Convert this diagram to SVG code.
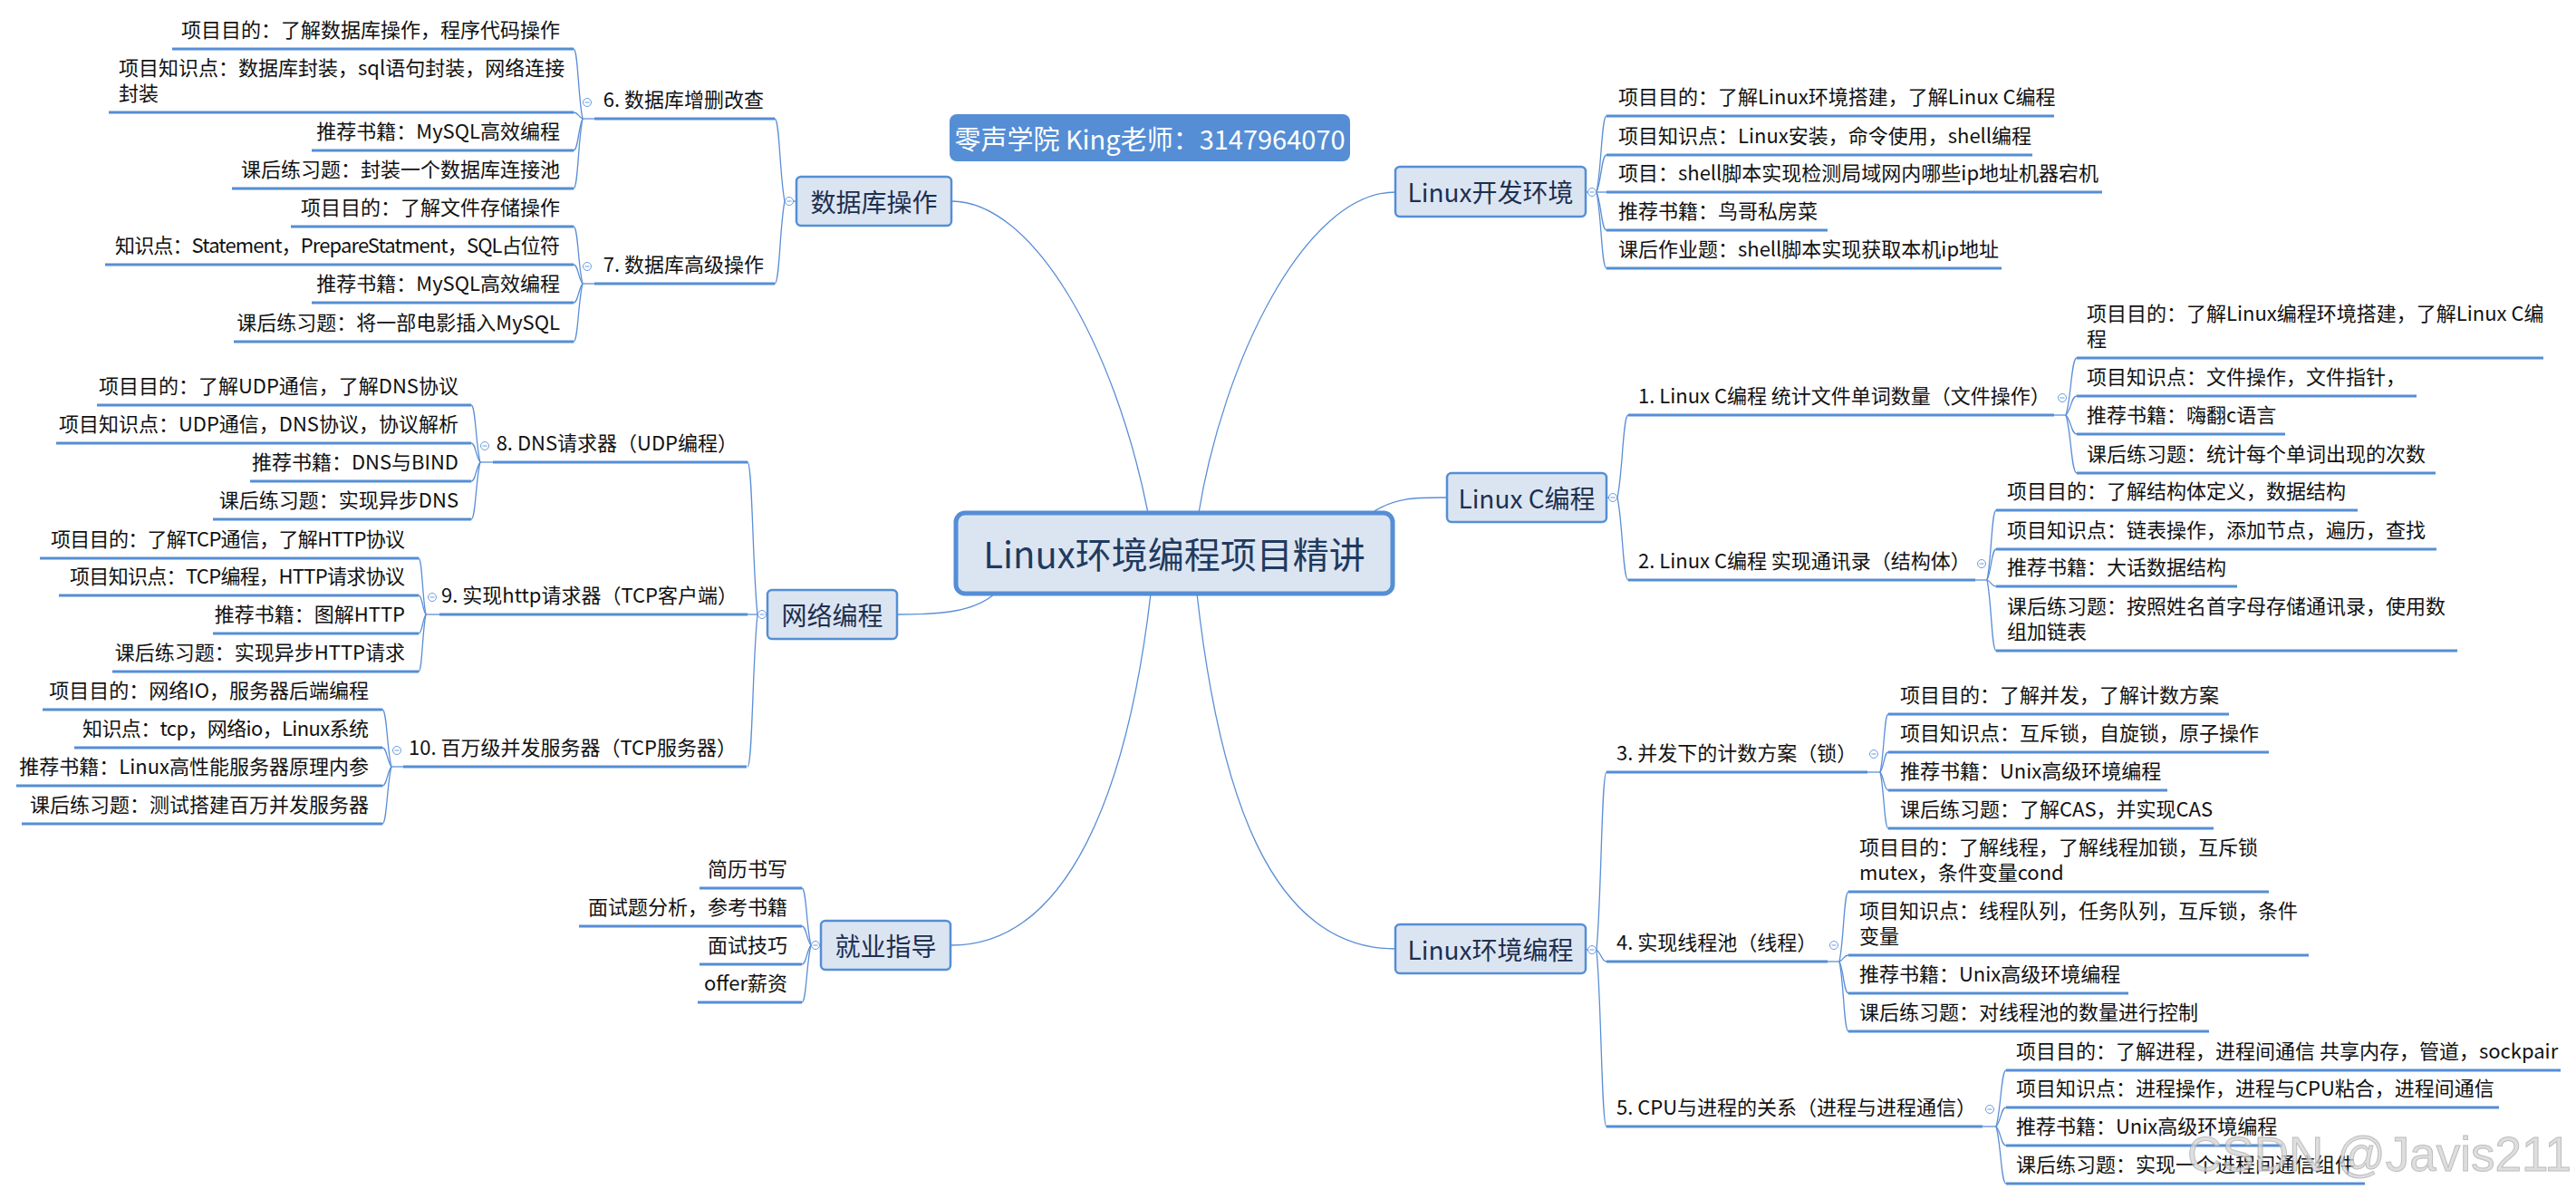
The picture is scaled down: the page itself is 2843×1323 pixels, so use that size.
<svg xmlns="http://www.w3.org/2000/svg" width="2843" height="1323" viewBox="0 0 2843 1323">
<style>
text{font-family:'Noto Sans CJK SC','Microsoft YaHei',sans-serif;}
.tx{font-size:22px;fill:#111;}
.e{text-anchor:end;}
.box{fill:#dbe5f1;stroke:#558ed5;stroke-width:2.5;}
.root{fill:#dbe5f1;stroke:#558ed5;stroke-width:5;}
.t1{font-size:28px;fill:#1d2f50;text-anchor:middle;dominant-baseline:central;}
.t0{font-size:40px;fill:#1f3a60;text-anchor:middle;dominant-baseline:central;}
.ul{stroke:#558ed5;stroke-width:3;fill:none;}
.ln{stroke:#5b8fd6;stroke-width:1.3;fill:none;}
.btn{fill:#fff;stroke:#6b9be0;stroke-width:1;}
</style>
<defs>
<g id="b"><circle class="btn" r="4.5"/><line x1="-2.5" y1="0" x2="2.5" y2="0" stroke="#6b9be0" stroke-width="1"/></g>
</defs>
<rect width="2843" height="1323" fill="#fff"/>

<g id="connectors">
<!-- center to level-1 -->
<path class="ln" d="M1050,222 C1140,222 1230,380 1267,566"/>
<path class="ln" d="M1540,212 C1440,212 1350,400 1323,566"/>
<path class="ln" d="M1514,566 C1540,548 1565,549 1597,549"/>
<path class="ln" d="M1098,655 C1075,675 1040,678 990,678"/>
<path class="ln" d="M1270,655 C1245,870 1180,1043 1050,1043"/>
<path class="ln" d="M1321,655 C1345,870 1400,1047 1540,1047"/>
<!-- Linux开发环境 -->
<path class="ln" d="M1750,212 L1762,212"/>
<path class="ln" d="M1762,212 C1767.5,186.8 1767.5,128 1773,128"/>
<path class="ln" d="M1762,212 C1767.5,199.7 1767.5,171 1773,171"/>
<path class="ln" d="M1762,212 L1773,212"/>
<path class="ln" d="M1762,212 C1767.5,224.6 1767.5,254 1773,254"/>
<path class="ln" d="M1762,212 C1767.5,237.2 1767.5,296 1773,296"/>
<!-- Linux C编程 -->
<path class="ln" d="M1773,549 L1785,549"/>
<path class="ln" d="M1785,549 C1791,521.7 1791,458 1797,458"/>
<path class="ln" d="M1785,549 C1791,576.3 1791,640 1797,640"/>
<path class="ln" d="M2267,458 L2280,458"/>
<path class="ln" d="M2280,458 C2286,439.1 2286,395 2292,395"/>
<path class="ln" d="M2280,458 C2286,451.7 2286,437 2292,437"/>
<path class="ln" d="M2280,458 C2286,464.3 2286,479 2292,479"/>
<path class="ln" d="M2280,458 C2286,477.2 2286,522 2292,522"/>
<path class="ln" d="M2180,640 L2193,640"/>
<path class="ln" d="M2193,640 C2198,616.9 2198,563 2203,563"/>
<path class="ln" d="M2193,640 C2198,629.8 2198,606 2203,606"/>
<path class="ln" d="M2193,640 C2198,642.1 2198,647 2203,647"/>
<path class="ln" d="M2193,640 C2198,663.4 2198,718 2203,718"/>
<!-- Linux环境编程 -->
<path class="ln" d="M1750,1048 L1762,1048"/>
<path class="ln" d="M1762,1048 C1767.5,989.2 1767.5,852 1773,852"/>
<path class="ln" d="M1762,1048 C1767.5,1051.9 1767.5,1061 1773,1061"/>
<path class="ln" d="M1762,1048 C1767.5,1106.5 1767.5,1243 1773,1243"/>
<path class="ln" d="M2061,852 L2075,852"/>
<path class="ln" d="M2075,852 C2079.5,832.8 2079.5,788 2084,788"/>
<path class="ln" d="M2075,852 C2079.5,845.4 2079.5,830 2084,830"/>
<path class="ln" d="M2075,852 C2079.5,858 2079.5,872 2084,872"/>
<path class="ln" d="M2075,852 C2079.5,870.6 2079.5,914 2084,914"/>
<path class="ln" d="M2017,1061 L2030,1061"/>
<path class="ln" d="M2030,1061 C2035,1037.9 2035,984 2040,984"/>
<path class="ln" d="M2030,1061 C2035,1058.9 2035,1054 2040,1054"/>
<path class="ln" d="M2030,1061 C2035,1071.5 2035,1096 2040,1096"/>
<path class="ln" d="M2030,1061 C2035,1084.1 2035,1138 2040,1138"/>
<path class="ln" d="M2188,1243 L2203,1243"/>
<path class="ln" d="M2203,1243 C2208.5,1224.4 2208.5,1181 2214,1181"/>
<path class="ln" d="M2203,1243 C2208.5,1236.7 2208.5,1222 2214,1222"/>
<path class="ln" d="M2203,1243 C2208.5,1249.3 2208.5,1264 2214,1264"/>
<path class="ln" d="M2203,1243 C2208.5,1261.9 2208.5,1306 2214,1306"/>
<!-- 数据库操作 -->
<path class="ln" d="M879,222 L866,222"/>
<path class="ln" d="M866,222 C860.5,194.7 860.5,131 855,131"/>
<path class="ln" d="M866,222 C860.5,249.3 860.5,313 855,313"/>
<path class="ln" d="M656,131 L643,131"/>
<path class="ln" d="M643,131 C638,107.9 638,54 633,54"/>
<path class="ln" d="M643,131 C638,128.9 638,124 633,124"/>
<path class="ln" d="M643,131 C638,141.5 638,166 633,166"/>
<path class="ln" d="M643,131 C638,154.1 638,208 633,208"/>
<path class="ln" d="M656,313 L643,313"/>
<path class="ln" d="M643,313 C638,294.1 638,250 633,250"/>
<path class="ln" d="M643,313 C638,306.7 638,292 633,292"/>
<path class="ln" d="M643,313 C638,319.3 638,334 633,334"/>
<path class="ln" d="M643,313 C638,332.2 638,377 633,377"/>
<!-- 网络编程 -->
<path class="ln" d="M847,678 L836,678"/>
<path class="ln" d="M836,678 C830.5,627.6 830.5,510 825,510"/>
<path class="ln" d="M836,678 L825,678"/>
<path class="ln" d="M836,678 C830.5,728.4 830.5,846 825,846"/>
<path class="ln" d="M544,510 L530,510"/>
<path class="ln" d="M530,510 C525,491.1 525,447 520,447"/>
<path class="ln" d="M530,510 C525,503.7 525,489 520,489"/>
<path class="ln" d="M530,510 C525,516.3 525,531 520,531"/>
<path class="ln" d="M530,510 C525,528.9 525,573 520,573"/>
<path class="ln" d="M485,678 L470,678"/>
<path class="ln" d="M470,678 C466,659.4 466,616 462,616"/>
<path class="ln" d="M470,678 C466,671.7 466,657 462,657"/>
<path class="ln" d="M470,678 C466,684.3 466,699 462,699"/>
<path class="ln" d="M470,678 C466,696.9 466,741 462,741"/>
<path class="ln" d="M445,846 L432,846"/>
<path class="ln" d="M432,846 C427,827.1 427,783 422,783"/>
<path class="ln" d="M432,846 C427,839.7 427,825 422,825"/>
<path class="ln" d="M432,846 C427,852.3 427,867 422,867"/>
<path class="ln" d="M432,846 C427,864.9 427,909 422,909"/>
<!-- 就业指导 -->
<path class="ln" d="M906,1043 L895,1043"/>
<path class="ln" d="M895,1043 C890,1024.1 890,980 885,980"/>
<path class="ln" d="M895,1043 C890,1036.7 890,1022 885,1022"/>
<path class="ln" d="M895,1043 C890,1049.3 890,1064 885,1064"/>
<path class="ln" d="M895,1043 C890,1061.9 890,1106 885,1106"/>
</g>

<g id="banner">
<rect x="1048" y="126" width="442" height="52" rx="8" fill="#558ed5"/>
<text x="1269" y="152" style="font-size:29px;fill:#fff;text-anchor:middle;dominant-baseline:central">零声学院 King老师：3147964070</text>
</g>

<g id="root">
<rect class="root" x="1055" y="566" width="482" height="89" rx="10"/>
<text class="t0" x="1296" y="610">Linux环境编程项目精讲</text>
</g>

<g id="n-db">
<rect class="box" x="879" y="195" width="171" height="54" rx="5"/>
<text class="t1" x="964.5" y="222">数据库操作</text>
<use href="#b" x="871" y="222"/>
</g>
<g id="n-dev">
<rect class="box" x="1540" y="184" width="210" height="55" rx="5"/>
<text class="t1" x="1645" y="211">Linux开发环境</text>
<use href="#b" x="1757" y="212"/>
</g>
<g id="n-c">
<rect class="box" x="1597" y="522" width="176" height="54" rx="5"/>
<text class="t1" x="1685" y="549">Linux C编程</text>
<use href="#b" x="1780" y="549"/>
</g>
<g id="n-net">
<rect class="box" x="847" y="651" width="143" height="54" rx="5"/>
<text class="t1" x="918.5" y="678">网络编程</text>
<use href="#b" x="841" y="678"/>
</g>
<g id="n-job">
<rect class="box" x="906" y="1016" width="143" height="54" rx="5"/>
<text class="t1" x="977.5" y="1043">就业指导</text>
<use href="#b" x="900" y="1043"/>
</g>
<g id="n-env">
<rect class="box" x="1540" y="1020" width="210" height="54" rx="5"/>
<text class="t1" x="1645" y="1047">Linux环境编程</text>
<use href="#b" x="1757" y="1048"/>
</g>

<!-- 数据库操作 branch -->
<g id="n6">
<line class="ul" x1="656" y1="131" x2="855" y2="131"/>
<text class="tx e" x="843" y="118">6. 数据库增删改查</text>
<use href="#b" x="648" y="113"/>
</g>
<g id="n6a"><line class="ul" x1="190" y1="54" x2="633" y2="54"/><text class="tx e" x="618" y="41">项目目的：了解数据库操作，程序代码操作</text></g>
<g id="n6b"><line class="ul" x1="120" y1="124" x2="633" y2="124"/><text class="tx" x="131" y="83">项目知识点：数据库封装，sql语句封装，网络连接</text><text class="tx" x="131" y="111">封装</text></g>
<g id="n6c"><line class="ul" x1="344" y1="166" x2="633" y2="166"/><text class="tx e" x="618" y="153">推荐书籍：MySQL高效编程</text></g>
<g id="n6d"><line class="ul" x1="256" y1="208" x2="633" y2="208"/><text class="tx e" x="618" y="195">课后练习题：封装一个数据库连接池</text></g>
<g id="n7">
<line class="ul" x1="656" y1="313" x2="855" y2="313"/>
<text class="tx e" x="843" y="300">7. 数据库高级操作</text>
<use href="#b" x="648" y="294"/>
</g>
<g id="n7a"><line class="ul" x1="321" y1="250" x2="633" y2="250"/><text class="tx e" x="618" y="237">项目目的：了解文件存储操作</text></g>
<g id="n7b"><line class="ul" x1="116" y1="292" x2="633" y2="292"/><text class="tx e" x="618" y="279" textLength="491" lengthAdjust="spacing">知识点：Statement，PrepareStatment，SQL占位符</text></g>
<g id="n7c"><line class="ul" x1="344" y1="334" x2="633" y2="334"/><text class="tx e" x="618" y="321">推荐书籍：MySQL高效编程</text></g>
<g id="n7d"><line class="ul" x1="258" y1="377" x2="633" y2="377"/><text class="tx e" x="618" y="364">课后练习题：将一部电影插入MySQL</text></g>

<!-- 网络编程 branch -->
<g id="n8">
<line class="ul" x1="544" y1="510" x2="825" y2="510"/>
<text class="tx e" x="814" y="497">8. DNS请求器（UDP编程）</text>
<use href="#b" x="535" y="492"/>
</g>
<g id="n8a"><line class="ul" x1="107" y1="447" x2="520" y2="447"/><text class="tx e" x="506" y="434">项目目的：了解UDP通信，了解DNS协议</text></g>
<g id="n8b"><line class="ul" x1="62" y1="489" x2="520" y2="489"/><text class="tx e" x="506" y="476">项目知识点：UDP通信，DNS协议，协议解析</text></g>
<g id="n8c"><line class="ul" x1="276" y1="531" x2="520" y2="531"/><text class="tx e" x="506" y="518">推荐书籍：DNS与BIND</text></g>
<g id="n8d"><line class="ul" x1="235" y1="573" x2="520" y2="573"/><text class="tx e" x="506" y="560">课后练习题：实现异步DNS</text></g>
<g id="n9">
<line class="ul" x1="485" y1="678" x2="825" y2="678"/>
<text class="tx e" x="814" y="665">9. 实现http请求器（TCP客户端）</text>
<use href="#b" x="477" y="659"/>
</g>
<g id="n9a"><line class="ul" x1="44" y1="616" x2="462" y2="616"/><text class="tx e" x="447" y="603" textLength="391" lengthAdjust="spacing">项目目的：了解TCP通信，了解HTTP协议</text></g>
<g id="n9b"><line class="ul" x1="65" y1="657" x2="462" y2="657"/><text class="tx e" x="447" y="644" textLength="370" lengthAdjust="spacing">项目知识点：TCP编程，HTTP请求协议</text></g>
<g id="n9c"><line class="ul" x1="235" y1="699" x2="462" y2="699"/><text class="tx e" x="447" y="686">推荐书籍：图解HTTP</text></g>
<g id="n9d"><line class="ul" x1="124" y1="741" x2="462" y2="741"/><text class="tx e" x="447" y="728">课后练习题：实现异步HTTP请求</text></g>
<g id="n10">
<line class="ul" x1="445" y1="846" x2="824" y2="846"/>
<text class="tx e" x="813" y="833">10. 百万级并发服务器（TCP服务器）</text>
<use href="#b" x="438" y="828"/>
</g>
<g id="n10a"><line class="ul" x1="47" y1="783" x2="422" y2="783"/><text class="tx e" x="407" y="770">项目目的：网络IO，服务器后端编程</text></g>
<g id="n10b"><line class="ul" x1="82" y1="825" x2="422" y2="825"/><text class="tx e" x="407" y="812" textLength="316" lengthAdjust="spacing">知识点：tcp，网络io，Linux系统</text></g>
<g id="n10c"><line class="ul" x1="18" y1="867" x2="422" y2="867"/><text class="tx e" x="407" y="854">推荐书籍：Linux高性能服务器原理内参</text></g>
<g id="n10d"><line class="ul" x1="24" y1="909" x2="422" y2="909"/><text class="tx e" x="407" y="896">课后练习题：测试搭建百万并发服务器</text></g>

<!-- 就业指导 branch -->
<g id="nj1"><line class="ul" x1="772" y1="980" x2="885" y2="980"/><text class="tx e" x="869" y="967">简历书写</text></g>
<g id="nj2"><line class="ul" x1="639" y1="1022" x2="885" y2="1022"/><text class="tx e" x="869" y="1009">面试题分析，参考书籍</text></g>
<g id="nj3"><line class="ul" x1="772" y1="1064" x2="885" y2="1064"/><text class="tx e" x="869" y="1051">面试技巧</text></g>
<g id="nj4"><line class="ul" x1="770" y1="1106" x2="885" y2="1106"/><text class="tx e" x="869" y="1093">offer薪资</text></g>

<!-- Linux开发环境 branch -->
<g id="nd1"><line class="ul" x1="1773" y1="128" x2="2267" y2="128"/><text class="tx" x="1786" y="115">项目目的：了解Linux环境搭建，了解Linux C编程</text></g>
<g id="nd2"><line class="ul" x1="1773" y1="171" x2="2243" y2="171"/><text class="tx" x="1786" y="158">项目知识点：Linux安装，命令使用，shell编程</text></g>
<g id="nd3"><line class="ul" x1="1773" y1="212" x2="2320" y2="212"/><text class="tx" x="1786" y="199">项目：shell脚本实现检测局域网内哪些ip地址机器宕机</text></g>
<g id="nd4"><line class="ul" x1="1773" y1="254" x2="2017" y2="254"/><text class="tx" x="1786" y="241">推荐书籍：鸟哥私房菜</text></g>
<g id="nd5"><line class="ul" x1="1773" y1="296" x2="2209" y2="296"/><text class="tx" x="1786" y="283">课后作业题：shell脚本实现获取本机ip地址</text></g>

<!-- Linux C编程 branch -->
<g id="n1">
<line class="ul" x1="1797" y1="458" x2="2267" y2="458"/>
<text class="tx" x="1808" y="445">1. Linux C编程 统计文件单词数量（文件操作）</text>
<use href="#b" x="2276" y="439"/>
</g>
<g id="n1a"><line class="ul" x1="2292" y1="395" x2="2807" y2="395"/><text class="tx" x="2303" y="354">项目目的：了解Linux编程环境搭建，了解Linux C编</text><text class="tx" x="2303" y="382">程</text></g>
<g id="n1b"><line class="ul" x1="2292" y1="437" x2="2667" y2="437"/><text class="tx" x="2303" y="424">项目知识点：文件操作，文件指针，</text></g>
<g id="n1c"><line class="ul" x1="2292" y1="479" x2="2522" y2="479"/><text class="tx" x="2303" y="466">推荐书籍：嗨翻c语言</text></g>
<g id="n1d"><line class="ul" x1="2292" y1="522" x2="2688" y2="522"/><text class="tx" x="2303" y="509">课后练习题：统计每个单词出现的次数</text></g>
<g id="n2">
<line class="ul" x1="1797" y1="640" x2="2180" y2="640"/>
<text class="tx" x="1808" y="627">2. Linux C编程 实现通讯录（结构体）</text>
<use href="#b" x="2187" y="622"/>
</g>
<g id="n2a"><line class="ul" x1="2203" y1="563" x2="2602" y2="563"/><text class="tx" x="2215" y="550">项目目的：了解结构体定义，数据结构</text></g>
<g id="n2b"><line class="ul" x1="2203" y1="606" x2="2689" y2="606"/><text class="tx" x="2215" y="593">项目知识点：链表操作，添加节点，遍历，查找</text></g>
<g id="n2c"><line class="ul" x1="2203" y1="647" x2="2469" y2="647"/><text class="tx" x="2215" y="634">推荐书籍：大话数据结构</text></g>
<g id="n2d"><line class="ul" x1="2203" y1="718" x2="2712" y2="718"/><text class="tx" x="2215" y="677">课后练习题：按照姓名首字母存储通讯录，使用数</text><text class="tx" x="2215" y="705">组加链表</text></g>

<!-- Linux环境编程 branch -->
<g id="n3">
<line class="ul" x1="1773" y1="852" x2="2061" y2="852"/>
<text class="tx" x="1784" y="839">3. 并发下的计数方案（锁）</text>
<use href="#b" x="2068" y="832"/>
</g>
<g id="n3a"><line class="ul" x1="2084" y1="788" x2="2460" y2="788"/><text class="tx" x="2097" y="775">项目目的：了解并发，了解计数方案</text></g>
<g id="n3b"><line class="ul" x1="2084" y1="830" x2="2504" y2="830"/><text class="tx" x="2097" y="817">项目知识点：互斥锁，自旋锁，原子操作</text></g>
<g id="n3c"><line class="ul" x1="2084" y1="872" x2="2392" y2="872"/><text class="tx" x="2097" y="859">推荐书籍：Unix高级环境编程</text></g>
<g id="n3d"><line class="ul" x1="2084" y1="914" x2="2443" y2="914"/><text class="tx" x="2097" y="901">课后练习题：了解CAS，并实现CAS</text></g>
<g id="n4">
<line class="ul" x1="1773" y1="1061" x2="2017" y2="1061"/>
<text class="tx" x="1784" y="1048">4. 实现线程池（线程）</text>
<use href="#b" x="2024" y="1043"/>
</g>
<g id="n4a"><line class="ul" x1="2040" y1="984" x2="2504" y2="984"/><text class="tx" x="2052" y="943">项目目的：了解线程，了解线程加锁，互斥锁</text><text class="tx" x="2052" y="971">mutex，条件变量cond</text></g>
<g id="n4b"><line class="ul" x1="2040" y1="1054" x2="2548" y2="1054"/><text class="tx" x="2052" y="1013">项目知识点：线程队列，任务队列，互斥锁，条件</text><text class="tx" x="2052" y="1041">变量</text></g>
<g id="n4c"><line class="ul" x1="2040" y1="1096" x2="2349" y2="1096"/><text class="tx" x="2052" y="1083">推荐书籍：Unix高级环境编程</text></g>
<g id="n4d"><line class="ul" x1="2040" y1="1138" x2="2438" y2="1138"/><text class="tx" x="2052" y="1125">课后练习题：对线程池的数量进行控制</text></g>
<g id="n5">
<line class="ul" x1="1773" y1="1243" x2="2188" y2="1243"/>
<text class="tx" x="1784" y="1230">5. CPU与进程的关系（进程与进程通信）</text>
<use href="#b" x="2196" y="1224"/>
</g>
<g id="n5a"><line class="ul" x1="2214" y1="1181" x2="2826" y2="1181"/><text class="tx" x="2225" y="1168">项目目的：了解进程，进程间通信 共享内存，管道，sockpair</text></g>
<g id="n5b"><line class="ul" x1="2214" y1="1222" x2="2758" y2="1222"/><text class="tx" x="2225" y="1209">项目知识点：进程操作，进程与CPU粘合，进程间通信</text></g>
<g id="n5c"><line class="ul" x1="2214" y1="1264" x2="2519" y2="1264"/><text class="tx" x="2225" y="1251">推荐书籍：Unix高级环境编程</text></g>
<g id="n5d"><line class="ul" x1="2214" y1="1306" x2="2610" y2="1306"/><text class="tx" x="2225" y="1293">课后练习题：实现一个进程间通信组件</text></g>

<text x="2414" y="1292" style="font-family:'Liberation Sans',Arial,sans-serif;font-size:53px;fill:#d4d4d4;stroke:#a8a8a8;stroke-width:1;opacity:0.75">CSDN @Javis211</text>
</svg>
